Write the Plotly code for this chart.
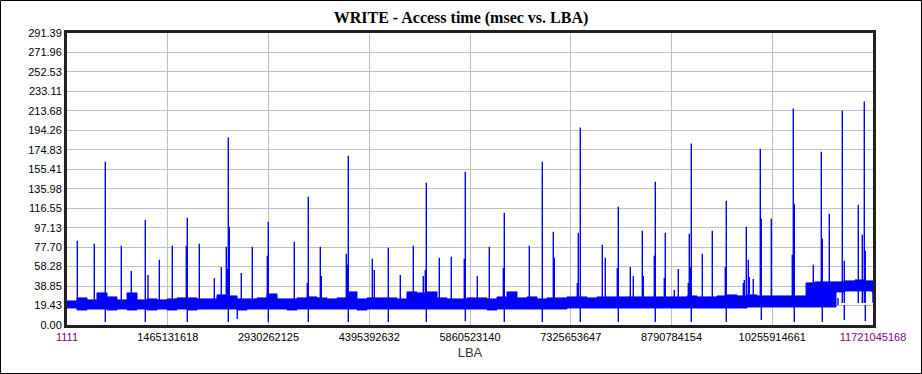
import plotly.graph_objects as go

# ---------------- data ----------------
x_ticks = [1111, 1465131618, 2930262125, 4395392632, 5860523140,
           7325653647, 8790784154, 10255914661, 11721045168]
y_ticks = [0.00, 19.43, 38.85, 58.28, 77.70, 97.13, 116.55, 135.98, 155.41,
           174.83, 194.26, 213.68, 233.11, 252.53, 271.96, 291.39]
x_min, x_max = 1111, 11721045168
y_min, y_max = 0.0, 291.39

# baseline noise band (LBA in millions, upper / lower envelope in msec)
band_lba_m = [0.001, 145, 291, 436, 582, 727, 873, 1018, 1163, 1309, 1454, 1600,
              1745, 1891, 2036, 2181, 2327, 2472, 2618, 2763, 2908, 3054, 3199,
              3345, 3490, 3636, 3781, 3926, 4072, 4217, 4363, 4508, 4654, 4799,
              4944, 5090, 5235, 5381, 5526, 5672, 5817, 5962, 6108, 6253, 6399,
              6544, 6690, 6835, 6980, 7126, 7271, 7417, 7562, 7708, 7853, 7998,
              8144, 8289, 8435, 8580, 8726, 8871, 9016, 9162, 9307, 9453, 9598,
              9744, 9889, 10034, 10180, 10325, 10471, 10616, 10732, 10747, 10877,
              11023, 11168, 11183, 11314, 11459, 11605, 11706, 11721]
band_hi = [24, 27, 25, 32, 28, 25, 32, 25, 26, 25, 26, 27, 27, 26, 26, 30, 29, 26,
           26, 27, 31, 26, 26, 27, 28, 27, 26, 27, 33, 26, 27, 27, 27, 26, 33, 32,
           33, 27, 26, 26, 27, 27, 26, 28, 33, 27, 28, 26, 27, 27, 28, 28, 27, 28,
           28, 28, 28, 28, 28, 28, 28, 28, 29, 28, 28, 29, 30, 29, 30, 29, 29, 29,
           29, 29, 29, 42, 43, 43, 43, 43, 44, 45, 44, 44, 23]
band_lo = [17, 15, 16, 16, 15, 16, 15, 16, 15, 16, 15, 16, 15, 16, 16, 16, 16, 15,
           16, 16, 16, 16, 15, 16, 16, 16, 16, 16, 16, 15, 16, 16, 16, 16, 16, 16,
           16, 16, 16, 16, 16, 16, 15, 16, 16, 16, 16, 16, 16, 16, 17, 17, 17, 17,
           17, 17, 17, 17, 17, 17, 17, 17, 17, 17, 17, 17, 17, 17, 18, 18, 18, 18,
           18, 18, 18, 18, 18, 18, 18, 33, 34, 34, 34, 33, 22]

# upward spikes (LBA in millions, peak msec)
spike_lba_m = [149.8, 397.0, 557.0, 789.6, 935.1, 1138.6, 1177.9, 1342.2, 1531.3,
               1734.9, 1749.4, 1923.9, 2142.1, 2243.8, 2316.6, 2331.1, 2345.7,
               2360.2, 2534.7, 2694.7, 2912.8, 2927.3, 3305.4, 3494.5, 3509.0,
               3683.5, 3698.1, 4061.6, 4076.2, 4090.7, 4439.7, 4468.8, 4672.4,
               4846.9, 5035.9, 5181.4, 5210.5, 5225.0, 5414.0, 5588.5, 5777.6,
               5792.1, 5966.6, 6141.1, 6344.7, 6359.3, 6722.8, 6911.9, 7071.9,
               7086.4, 7420.9, 7435.4, 7464.5, 7784.4, 7828.0, 8002.5, 8017.1,
               8191.6, 8235.2, 8366.1, 8380.6, 8540.6, 8555.1, 8686.0, 8700.5,
               8831.4, 8889.6, 9034.9, 9049.5, 9064.0, 9078.6, 9238.5, 9383.9,
               9573.0, 9587.5, 9834.8, 9849.3, 9878.4, 9907.5, 9922.0, 9980.2,
               10082.0, 10096.5, 10241.9, 10547.3, 10561.9, 10576.4, 10852.7,
               10969.0, 10983.6, 11085.4, 11274.5, 11303.5, 11507.1, 11565.3,
               11594.4, 11608.9, 11710.6]
spike_msec = [84, 81, 163, 79, 54, 105, 50, 65, 79,
              79, 107, 81, 47, 58, 78, 56, 187,
              98, 52, 78, 69, 103, 83, 42, 128,
              78, 49, 71, 60, 169, 66, 55, 77,
              50, 79, 49, 55, 142, 67, 68, 66,
              153, 49, 78, 57, 112, 79, 163, 93,
              67, 42, 92, 197, 80, 67, 57, 118,
              58, 49, 94, 49, 69, 143, 47, 92,
              35, 56, 42, 91, 58, 181, 71, 94,
              58, 124, 42, 45, 98, 65, 48, 46,
              176, 106, 106, 70, 216, 121,
              60, 173, 86, 111, 214, 64, 120,
              90, 223, 74]

# downward dips (LBA in millions, minimum msec)
dip_lba_m = [557.0, 1138.6, 1749.4, 2345.7, 2476.5, 2927.3, 3509.0, 4090.7,
             4672.4, 5225.0, 5792.1, 6359.3, 6911.9, 7464.5, 8017.1, 8555.1,
             9078.6, 9587.5, 10096.5, 10576.4, 10983.6, 11212.0, 11303.5, 11608.9]
dip_msec = [3, 3, 3, 3, 6, 3, 3, 3,
            3, 3, 4, 3, 3, 3, 3, 3,
            3, 3, 5, 3, 3, 27, 5, 4]

# ---------------- figure ----------------
BLUE = "#0000FF"
M = 1e6
fig = go.Figure()

band_x = [v * M for v in band_lba_m]
fig.add_trace(go.Scatter(x=band_x, y=band_lo, mode="lines",
                         line=dict(color=BLUE, width=1, shape="hv"),
                         showlegend=False, hoverinfo="skip"))
fig.add_trace(go.Scatter(x=band_x, y=band_hi, mode="lines", fill="tonexty",
                         fillcolor=BLUE,
                         line=dict(color=BLUE, width=1, shape="hv"),
                         showlegend=False, hoverinfo="skip"))

sx, sy = [], []
for lba, v in zip(spike_lba_m, spike_msec):
    sx += [lba * M, lba * M, None]
    sy += [22, v, None]
for lba, v in zip(dip_lba_m, dip_msec):
    sx += [lba * M, lba * M, None]
    sy += [20, v, None]
fig.add_trace(go.Scatter(x=sx, y=sy, mode="lines",
                         line=dict(color=BLUE, width=1.4), showlegend=False,
                         hoverinfo="skip"))

x_text = [str(v) for v in x_ticks]
x_text[0] = '<span style="color:#800080">' + x_text[0] + '</span>'
x_text[-1] = '<span style="color:#800080">' + x_text[-1] + '</span>'

L, R, T, B = 67, 49, 33, 49
W, H = 922, 374
pw, ph = W - L - R, H - T - B

fig.update_layout(
    width=W, height=H,
    margin=dict(l=L, r=R, t=T, b=B),
    paper_bgcolor="white", plot_bgcolor="white",
    title=dict(text="<b>WRITE - Access time (msec vs. LBA)</b>",
               x=0.5, xref="container", xanchor="center",
               y=1 - 17 / H, yref="container", yanchor="middle",
               font=dict(family="Liberation Serif", size=16, color="#000000")),
    font=dict(family="Liberation Sans", size=11, color="#000000"),
    xaxis=dict(range=[x_min, x_max], tickvals=x_ticks, ticktext=x_text,
               showgrid=True, gridcolor="#C0C0C0", gridwidth=1,
               zeroline=False, showline=True, mirror=True,
               linecolor="#222222", linewidth=3, ticks="",
               tickfont=dict(family="Liberation Sans", size=11, color="#000000"),
               title=dict(text="LBA", standoff=6,
                          font=dict(family="Liberation Sans", size=13,
                                    color="#333333"))),
    yaxis=dict(range=[y_min, y_max], tickvals=y_ticks,
               ticktext=[f"{v:.2f}" for v in y_ticks],
               showgrid=True, gridcolor="#C0C0C0", gridwidth=1,
               zeroline=False, showline=True, mirror=True,
               linecolor="#222222", linewidth=3, ticks="",
               tickfont=dict(family="Liberation Sans", size=11, color="#000000")),
    shapes=[dict(type="rect", xref="paper", yref="paper",
                 x0=(0.5 - L) / pw, x1=(W - 0.5 - L) / pw,
                 y0=(H - B - (H - 0.5)) / ph, y1=(H - B - 0.5) / ph,
                 line=dict(color="#000000", width=1), layer="above")],
)

fig.write_html("out.html")
